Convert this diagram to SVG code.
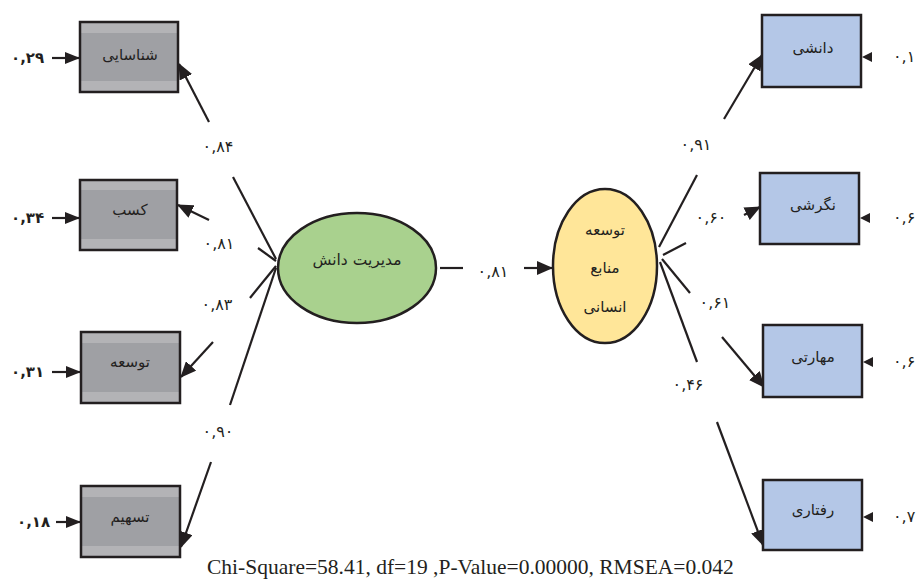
<svg xmlns="http://www.w3.org/2000/svg" width="917" height="579" viewBox="0 0 917 579">
  <style>
    .fa { font-family: "DejaVu Sans", sans-serif; fill: #231f20; text-anchor: middle; }
    .box-text { font-size: 15px; }
    .lat-text { font-size: 15.5px; }
    .coef { font-size: 16px; }
    .err-l { font-size: 15px; font-weight: bold; text-anchor: start; }
    .err-r { font-size: 16px; text-anchor: start; }
    .gray { fill: url(#grayFill); stroke: #231f20; stroke-width: 2.5; }
    .blue { fill: #b4c7e7; stroke: #231f20; stroke-width: 2.5; }
    .edge { fill: none; stroke: #231f20; stroke-width: 2.2; }
    .arrow { marker-end: url(#head); }
    .small-arrow { marker-end: url(#headSmall); }
    .fit { font-family: "Liberation Serif", serif; font-size: 21.5px; fill: #231f20; }
  </style>
  <defs>
    <linearGradient id="grayFill" x1="0" y1="0" x2="0" y2="1">
      <stop offset="0" stop-color="#b3b3b6"/>
      <stop offset="0.15" stop-color="#b3b3b6"/>
      <stop offset="0.15" stop-color="#9fa0a4"/>
      <stop offset="0.84" stop-color="#9fa0a4"/>
      <stop offset="0.84" stop-color="#b3b3b6"/>
      <stop offset="1" stop-color="#b3b3b6"/>
    </linearGradient>
    <marker id="head" viewBox="0 0 16 14" markerWidth="16" markerHeight="14" refX="15" refY="7" orient="auto" markerUnits="userSpaceOnUse">
      <path d="M0,0 L16,7 L0,14 z" fill="#231f20"/>
    </marker>
    <marker id="headSmall" viewBox="0 0 15 12" markerWidth="15" markerHeight="12" refX="15" refY="6" orient="auto" markerUnits="userSpaceOnUse">
      <path d="M0,0 L15,6 L0,12 z" fill="#231f20"/>
    </marker>
  </defs>

  <!-- connectors -->
  <g id="connectors">
    <!-- loadings of the knowledge-management factor -->
    <path class="edge" d="M276,259 L233,177"/>
    <path class="edge arrow" d="M209,122 L179,64"/>
    <path class="edge" d="M276,261 L258,248"/>
    <path class="edge arrow" d="M209,220 L178,205"/>
    <path class="edge" d="M276,266 L250,298"/>
    <path class="edge arrow" d="M213,342 L181,377"/>
    <path class="edge" d="M276,268 L230,405"/>
    <path class="edge arrow" d="M211,462 L181,547"/>

    <!-- structural path -->
    <path class="edge" d="M440,268 L463,268"/>
    <path class="edge arrow" d="M524,268 L552,268"/>

    <!-- loadings of the HR development factor -->
    <path class="edge" d="M659,247 L697,175"/>
    <path class="edge arrow" d="M724,119 L762,55"/>
    <path class="edge" d="M663,255 L686,243"/>
    <path class="edge arrow" d="M744,215 L760,207"/>
    <path class="edge" d="M662,259 L690,293"/>
    <path class="edge arrow" d="M722,337 L764,387"/>
    <path class="edge" d="M660,262 L697,362"/>
    <path class="edge arrow" d="M717,422 L763,545"/>

    <!-- error terms, left -->
    <path class="edge small-arrow" d="M52,58 L80,58" stroke-width="2.5"/>
    <path class="edge small-arrow" d="M52,218 L80,218" stroke-width="2.5"/>
    <path class="edge small-arrow" d="M52,372 L81,372" stroke-width="2.5"/>
    <path class="edge small-arrow" d="M56,522 L81,522" stroke-width="2.5"/>

    <!-- error terms, right -->
    <path d="M862,57 L872,52 L872,62 z" fill="#231f20"/>
    <path d="M860,218 L870,213 L870,223 z" fill="#231f20"/>
    <path d="M863,362 L873,357 L873,367 z" fill="#231f20"/>
    <path d="M863,517 L873,512 L873,522 z" fill="#231f20"/>

    <!-- coefficients -->
    <text class="fa coef" x="218" y="152">۰,۸۴</text>
    <text class="fa coef" x="219" y="249">۰,۸۱</text>
    <text class="fa coef" x="217" y="310">۰,۸۳</text>
    <text class="fa coef" x="218" y="437">۰,۹۰</text>
    <text class="fa coef" x="493" y="277">۰,۸۱</text>
    <text class="fa coef" x="696" y="150">۰,۹۱</text>
    <text class="fa coef" x="711" y="223">۰,۶۰</text>
    <text class="fa coef" x="715" y="308">۰,۶۱</text>
    <text class="fa coef" x="688" y="390">۰,۴۶</text>

    <text class="fa err-l" x="11" y="63">۰,۲۹</text>
    <text class="fa err-l" x="11" y="223">۰,۳۴</text>
    <text class="fa err-l" x="11" y="377">۰,۳۱</text>
    <text class="fa err-l" x="17" y="527">۰,۱۸</text>

    <text class="fa err-r" x="893" y="62">۰,۱</text>
    <text class="fa err-r" x="893" y="223">۰,۶</text>
    <text class="fa err-r" x="893" y="367">۰,۶</text>
    <text class="fa err-r" x="893" y="522">۰,۷</text>
  </g>

  <!-- observed indicators, left -->
  <g id="shenasayi">
    <rect class="gray" x="80" y="22" width="98" height="70"/>
    <text class="fa box-text" x="130" y="60">شناسایی</text>
  </g>
  <g id="kasb">
    <rect class="gray" x="80" y="180" width="97" height="70"/>
    <text class="fa box-text" x="130" y="215">کسب</text>
  </g>
  <g id="tosee">
    <rect class="gray" x="81" y="332" width="99" height="71"/>
    <text class="fa box-text" x="130" y="367">توسعه</text>
  </g>
  <g id="tashim">
    <rect class="gray" x="81" y="486" width="99" height="71"/>
    <text class="fa box-text" x="130" y="522">تسهیم</text>
  </g>

  <!-- latent factors -->
  <g id="modiriat-danesh">
    <ellipse cx="357" cy="268" rx="79" ry="55" fill="#a9d18e" stroke="#231f20" stroke-width="2.5"/>
    <text class="fa lat-text" x="357" y="265">مدیریت دانش</text>
  </g>
  <g id="tosee-manabe">
    <ellipse cx="605" cy="266" rx="52" ry="77" fill="#ffe699" stroke="#231f20" stroke-width="2.5"/>
    <text class="fa box-text" x="605" y="235">توسعه</text>
    <text class="fa box-text" x="605" y="273">منابع</text>
    <text class="fa box-text" x="605" y="312">انسانی</text>
  </g>

  <!-- observed indicators, right -->
  <g id="daneshi">
    <rect class="blue" x="762" y="15" width="99" height="72"/>
    <text class="fa box-text" x="813" y="53">دانشی</text>
  </g>
  <g id="negareshi">
    <rect class="blue" x="760" y="173" width="99" height="71"/>
    <text class="fa box-text" x="813" y="210">نگرشی</text>
  </g>
  <g id="maharati">
    <rect class="blue" x="763" y="325" width="99" height="72"/>
    <text class="fa box-text" x="813" y="362">مهارتی</text>
  </g>
  <g id="raftari">
    <rect class="blue" x="763" y="480" width="99" height="70"/>
    <text class="fa box-text" x="813" y="515">رفتاری</text>
  </g>

  <!-- fit statistics -->
  <text class="fit" x="207" y="574">Chi-Square=58.41, df=19 ,P-Value=0.00000, RMSEA=0.042</text>
</svg>
